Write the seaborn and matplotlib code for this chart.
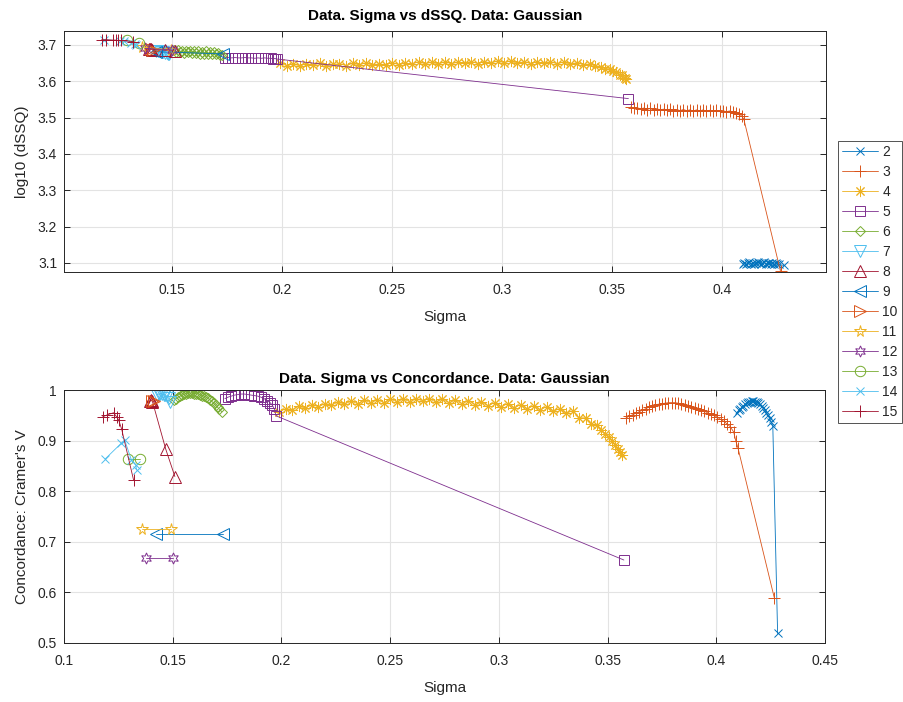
import matplotlib
matplotlib.use("Agg")
import matplotlib.pyplot as plt
from matplotlib.lines import Line2D
from matplotlib.ticker import MultipleLocator, FuncFormatter
import seaborn as sns

# number of clusters for every series
clusters = [2, 3, 4, 5, 6, 7, 8, 9, 10, 11, 12, 13, 14, 15]

# sigma, log10(dSSQ) and Cramer's V per cluster count
sigma_2 = [0.4095, 0.4103, 0.4110, 0.4118, 0.4125, 0.4133, 0.4140, 0.4148, 0.4155, 0.4163,
           0.4170, 0.4178, 0.4185, 0.4193, 0.4200, 0.4208, 0.4215, 0.4223, 0.4230, 0.4238,
           0.4245, 0.4253, 0.4260, 0.4282]
dssq_2 = [3.098, 3.101, 3.096, 3.099, 3.102, 3.097, 3.100, 3.096, 3.099, 3.102,
          3.100, 3.097, 3.099, 3.102, 3.096, 3.100, 3.099, 3.097, 3.101, 3.096,
          3.099, 3.098, 3.096, 3.093]
conc_2 = [0.955, 0.960, 0.963, 0.966, 0.969, 0.972, 0.974, 0.976, 0.977, 0.978,
          0.978, 0.977, 0.976, 0.974, 0.972, 0.969, 0.965, 0.960, 0.955, 0.950,
          0.944, 0.937, 0.928, 0.519]

sigma_3 = [0.3585, 0.3600, 0.3615, 0.3630, 0.3645, 0.3660, 0.3675, 0.3690, 0.3705, 0.3720,
           0.3735, 0.3750, 0.3765, 0.3780, 0.3795, 0.3810, 0.3825, 0.3840, 0.3855, 0.3870,
           0.3885, 0.3900, 0.3915, 0.3930, 0.3945, 0.3960, 0.3975, 0.3990, 0.4005, 0.4020,
           0.4035, 0.4050, 0.4065, 0.4080, 0.4090, 0.4100, 0.4267]
dssq_3 = [3.529, 3.525, 3.527, 3.524, 3.526, 3.522, 3.525, 3.521, 3.524, 3.521,
          3.523, 3.520, 3.523, 3.519, 3.522, 3.519, 3.522, 3.519, 3.521, 3.518,
          3.521, 3.518, 3.521, 3.517, 3.520, 3.517, 3.520, 3.517, 3.519, 3.516,
          3.518, 3.515, 3.513, 3.510, 3.504, 3.496, 3.077]
conc_3 = [0.945, 0.948, 0.951, 0.954, 0.957, 0.960, 0.963, 0.966, 0.969, 0.971,
          0.972, 0.973, 0.974, 0.975, 0.975, 0.975, 0.974, 0.972, 0.970, 0.968,
          0.966, 0.964, 0.962, 0.960, 0.958, 0.955, 0.952, 0.950, 0.946, 0.942,
          0.938, 0.933, 0.927, 0.917, 0.899, 0.885, 0.589]

sigma_4 = [0.1990, 0.2020, 0.2050, 0.2080, 0.2110, 0.2140, 0.2170, 0.2200, 0.2230, 0.2260,
           0.2290, 0.2320, 0.2350, 0.2380, 0.2410, 0.2440, 0.2470, 0.2500, 0.2530, 0.2560,
           0.2590, 0.2620, 0.2650, 0.2680, 0.2710, 0.2740, 0.2770, 0.2800, 0.2830, 0.2860,
           0.2890, 0.2920, 0.2950, 0.2980, 0.3010, 0.3040, 0.3070, 0.3100, 0.3130, 0.3160,
           0.3190, 0.3220, 0.3250, 0.3280, 0.3310, 0.3340, 0.3370, 0.3400, 0.3425, 0.3450,
           0.3470, 0.3490, 0.3505, 0.3520, 0.3535, 0.3548, 0.3558, 0.3565]
dssq_4 = [3.649, 3.643, 3.647, 3.642, 3.648, 3.644, 3.649, 3.643, 3.646, 3.648,
          3.643, 3.649, 3.645, 3.650, 3.644, 3.648, 3.645, 3.651, 3.645, 3.650,
          3.647, 3.653, 3.648, 3.652, 3.647, 3.653, 3.648, 3.652, 3.649, 3.654,
          3.648, 3.654, 3.650, 3.655, 3.651, 3.655, 3.649, 3.654, 3.648, 3.653,
          3.649, 3.653, 3.648, 3.652, 3.647, 3.651, 3.645, 3.648, 3.641, 3.640,
          3.634, 3.634, 3.627, 3.626, 3.618, 3.616, 3.609, 3.606]
conc_4 = [0.957, 0.963, 0.961, 0.968, 0.964, 0.971, 0.967, 0.973, 0.970, 0.976,
          0.972, 0.978, 0.973, 0.980, 0.975, 0.981, 0.975, 0.982, 0.977, 0.982,
          0.977, 0.983, 0.978, 0.983, 0.976, 0.982, 0.975, 0.980, 0.973, 0.979,
          0.971, 0.976, 0.969, 0.975, 0.967, 0.973, 0.965, 0.971, 0.963, 0.969,
          0.961, 0.967, 0.958, 0.963, 0.954, 0.959, 0.945, 0.945, 0.933, 0.930,
          0.920, 0.914, 0.908, 0.899, 0.892, 0.884, 0.878, 0.871]

sigma_5 = [0.1740, 0.1755, 0.1770, 0.1785, 0.1800, 0.1815, 0.1830, 0.1845, 0.1860, 0.1875,
           0.1890, 0.1905, 0.1920, 0.1935, 0.1948, 0.1958, 0.1968, 0.1975, 0.3575]
dssq_5 = [3.665, 3.665, 3.664, 3.665, 3.664, 3.664, 3.665, 3.664, 3.664, 3.663,
          3.664, 3.663, 3.664, 3.663, 3.663, 3.662, 3.662, 3.661, 3.552]
conc_5 = [0.983, 0.986, 0.988, 0.990, 0.991, 0.992, 0.992, 0.991, 0.990, 0.989,
          0.988, 0.986, 0.983, 0.979, 0.975, 0.970, 0.962, 0.949, 0.664]

sigma_6 = [0.1508, 0.1517, 0.1526, 0.1535, 0.1544, 0.1553, 0.1562, 0.1571, 0.1580, 0.1589,
           0.1598, 0.1607, 0.1616, 0.1625, 0.1634, 0.1643, 0.1652, 0.1661, 0.1670, 0.1679,
           0.1688, 0.1697, 0.1706, 0.1715, 0.1726]
dssq_6 = [3.686, 3.680, 3.685, 3.679, 3.684, 3.678, 3.683, 3.679, 3.684, 3.677,
          3.682, 3.677, 3.683, 3.676, 3.681, 3.676, 3.682, 3.675, 3.680, 3.675,
          3.679, 3.674, 3.678, 3.673, 3.672]
conc_6 = [0.980, 0.983, 0.986, 0.988, 0.990, 0.992, 0.993, 0.994, 0.994, 0.994,
          0.993, 0.993, 0.992, 0.991, 0.989, 0.988, 0.986, 0.984, 0.981, 0.978,
          0.974, 0.970, 0.966, 0.962, 0.957]

sigma_7 = [0.1427, 0.1435, 0.1443, 0.1450, 0.1458, 0.1466, 0.1474, 0.1481, 0.1487]
dssq_7 = [3.684, 3.683, 3.682, 3.680, 3.679, 3.678, 3.677, 3.676, 3.675]
conc_7 = [0.990, 0.992, 0.993, 0.992, 0.991, 0.990, 0.988, 0.984, 0.977]

sigma_8 = [0.1395, 0.1399, 0.1403, 0.1407, 0.1468, 0.1510]
dssq_8 = [3.689, 3.688, 3.688, 3.687, 3.685, 3.683]
conc_8 = [0.978, 0.980, 0.979, 0.977, 0.883, 0.829]

sigma_9 = [0.1425, 0.1730]
dssq_9 = [3.681, 3.675]
conc_9 = [0.715, 0.715]

sigma_10 = [0.1404, 0.1412]
dssq_10 = [3.688, 3.687]
conc_10 = [0.979, 0.978]

sigma_11 = [0.1361, 0.1494]
dssq_11 = [3.694, 3.686]
conc_11 = [0.725, 0.725]

sigma_12 = [0.1375, 0.1500]
dssq_12 = [3.690, 3.686]
conc_12 = [0.668, 0.668]

sigma_13 = [0.1293, 0.1348]
dssq_13 = [3.713, 3.704]
conc_13 = [0.864, 0.864]

sigma_14 = [0.1190, 0.1264, 0.1279, 0.1310, 0.1330, 0.1334]
dssq_14 = [3.714, 3.711, 3.710, 3.706, 3.702, 3.700]
conc_14 = [0.864, 0.895, 0.901, 0.862, 0.852, 0.842]

sigma_15 = [0.1178, 0.1200, 0.1228, 0.1242, 0.1251, 0.1265, 0.1320]
dssq_15 = [3.714, 3.714, 3.713, 3.713, 3.712, 3.712, 3.709]
conc_15 = [0.947, 0.951, 0.955, 0.947, 0.941, 0.923, 0.822]

sigmas = [sigma_2, sigma_3, sigma_4, sigma_5, sigma_6, sigma_7, sigma_8,
          sigma_9, sigma_10, sigma_11, sigma_12, sigma_13, sigma_14, sigma_15]
dssqs = [dssq_2, dssq_3, dssq_4, dssq_5, dssq_6, dssq_7, dssq_8,
         dssq_9, dssq_10, dssq_11, dssq_12, dssq_13, dssq_14, dssq_15]
concs = [conc_2, conc_3, conc_4, conc_5, conc_6, conc_7, conc_8,
         conc_9, conc_10, conc_11, conc_12, conc_13, conc_14, conc_15]

# matlab default color order and marker list
matlab_colors = ["#0072BD", "#D95319", "#EDB120", "#7E2F8E", "#77AC30", "#4DBEEE", "#A2142F"]
marker_list = ["x", "+", (8, 2, 0), "s", "D", "v", "^", "<", ">", "*", (6, 1, 0), "o", "x", "+"]
marker_size = [6, 8, 8, 6.5, 5, 8.5, 8.5, 8.5, 8.5, 8.5, 8, 7.5, 6, 8]

sns.set_style("whitegrid")
plt.rcParams['font.family'] = ['Liberation Sans', 'DejaVu Sans']
dark = "#262626"

fig = plt.figure(figsize=(9.04, 7.02), dpi=100)
ax1 = fig.add_axes([64 / 904, (702 - 272) / 702, 762 / 904, 241 / 702])
ax2 = fig.add_axes([64 / 904, (702 - 643) / 702, 761 / 904, 253 / 702])

handles = []
for i, k in enumerate(clusters):
    col = matlab_colors[i % 7]
    style = dict(color=col, marker=marker_list[i], markersize=marker_size[i],
                 markerfacecolor="none", markeredgecolor=col, markeredgewidth=0.7,
                 linewidth=0.6)
    sns.lineplot(x=sigmas[i], y=dssqs[i], ax=ax1, sort=False, estimator=None,
                 legend=False, **style)
    sns.lineplot(x=sigmas[i], y=concs[i], ax=ax2, sort=False, estimator=None,
                 legend=False, **style)
    handles.append(Line2D([], [], **style))

fmt = FuncFormatter(lambda v, p: f"{v:g}")
for ax in (ax1, ax2):
    ax.set_facecolor("white")
    ax.set_axisbelow(True)
    ax.grid(True, color="#e3e3e3", linewidth=0.8)
    for s in ax.spines.values():
        s.set_visible(True)
        s.set_color(dark)
        s.set_linewidth(0.7)
    ax.tick_params(direction="in", length=4, width=0.7, color=dark,
                   labelcolor=dark, labelsize=10, top=True, right=True,
                   bottom=True, left=True)
    ax.tick_params(axis="x", pad=8)
    ax.tick_params(axis="y", pad=5)
    ax.xaxis.set_major_locator(MultipleLocator(0.05))
    ax.xaxis.set_major_formatter(fmt)
    ax.yaxis.set_major_formatter(fmt)

ax1.set_xlim(0.1007, 0.4474)
ax1.set_ylim(3.075, 3.738)
ax1.yaxis.set_major_locator(MultipleLocator(0.1))
ax1.set_title("Data. Sigma vs dSSQ. Data: Gaussian", fontsize=11, fontweight="bold",
              color="black", pad=8)
ax1.set_xlabel("Sigma", fontsize=11, color=dark, labelpad=9)
ax1.set_ylabel("log10 (dSSQ)", fontsize=11, color=dark, labelpad=6)

ax2.set_xlim(0.1, 0.45)
ax2.set_ylim(0.5, 1.0)
ax2.yaxis.set_major_locator(MultipleLocator(0.1))
ax2.set_title("Data. Sigma vs Concordance. Data: Gaussian", fontsize=11,
              fontweight="bold", color="black", pad=5)
ax2.set_xlabel("Sigma", fontsize=11, color=dark, labelpad=9)
ax2.set_ylabel("Concordance: Cramer's V", fontsize=11, color=dark, labelpad=6)

leg = fig.legend(handles, [str(k) for k in clusters], loc="upper left",
                 bbox_to_anchor=(838 / 904, 1 - 141 / 702), fontsize=10,
                 frameon=True, fancybox=False, handlelength=2.6, handletextpad=0.3,
                 labelspacing=0.43, borderpad=0.3, borderaxespad=0)
leg.get_frame().set_edgecolor(dark)
leg.get_frame().set_linewidth(0.7)

fig.savefig("out.png", dpi=100)
